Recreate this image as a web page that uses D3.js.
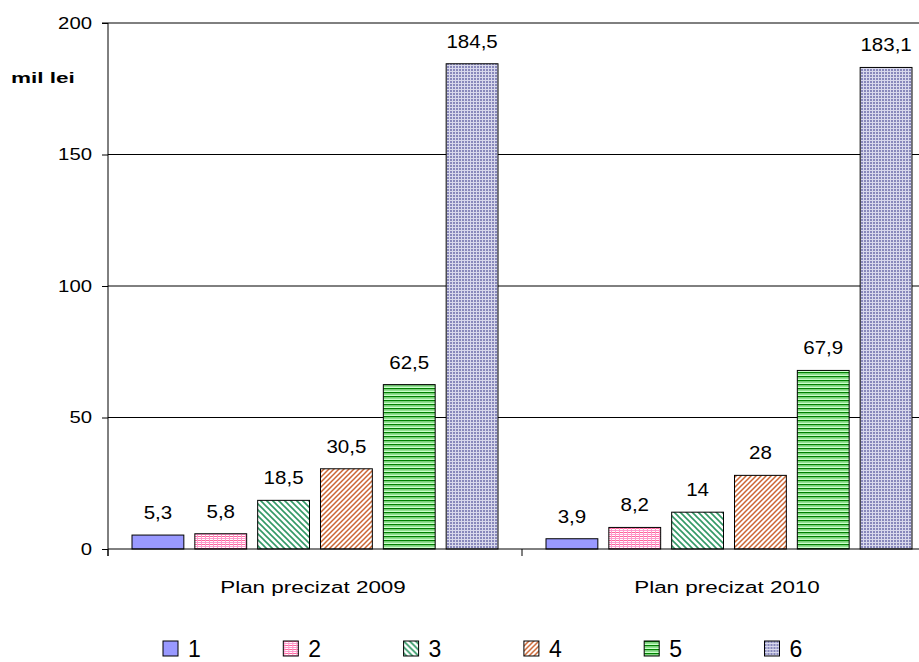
<!DOCTYPE html>
<html><head><meta charset="utf-8">
<script src="https://cdn.jsdelivr.net/npm/d3@7"></script>
<style>body{margin:0;background:#fff;}svg{display:block;font-family:Arial,"Liberation Sans",sans-serif;}</style>
</head><body><svg id="c" width="919" height="662"></svg>
<script>
const categories = ["Plan precizat 2009", "Plan precizat 2010"];
const seriesNames = ["1", "2", "3", "4", "5", "6"];
const values2009 = [5.3, 5.8, 18.5, 30.5, 62.5, 184.5];
const values2010 = [3.9, 8.2, 14, 28, 67.9, 183.1];
const yTicks = [0, 50, 100, 150, 200];
const yLabel = "mil lei";

const svg = d3.select("#c");
const margin = {left:108, top:23, right:936, bottom:549};
const x0 = d3.scaleBand().domain(categories).range([margin.left, margin.right]).paddingInner(0).paddingOuter(0);
const x1 = d3.scaleBand().domain(seriesNames).range([24, x0.bandwidth()-24]).paddingInner(0.175).paddingOuter(0);
const y = d3.scaleLinear().domain([0,200]).range([margin.bottom, margin.top]);

function stretch(sel, factor){
  sel.each(function(){
    const w = this.getComputedTextLength();
    d3.select(this).attr("textLength", w*factor).attr("lengthAdjust","spacingAndGlyphs");
  });
}

const defs = svg.append("defs");
function pat(id, w, h, build, bg){
  const p = defs.append("pattern").attr("id", id).attr("patternUnits","userSpaceOnUse").attr("width",w).attr("height",h);
  p.append("rect").attr("width",w).attr("height",h).attr("fill",bg||"#fff");
  build(p);
}
pat("p1",4,4,p=>{},"#9999FF");
pat("p2",4,4,p=>{
  p.append("rect").attr("x",0).attr("y",0).attr("width",4).attr("height",1).attr("fill","#FF6699");
  p.append("rect").attr("x",0).attr("y",2).attr("width",4).attr("height",1).attr("fill","#FF99CC");
  p.append("rect").attr("x",1).attr("y",0).attr("width",1).attr("height",4).attr("fill","#FF99CC");
},"#fff");
pat("p3",6,6,p=>{
  p.append("path").attr("d","M-1,-1 L7,7 M-1,5 L1,7 M5,-1 L7,1").attr("stroke","#339966").attr("stroke-width",1.6);
},"#fff");
pat("p4",5,5,p=>{
  p.append("path").attr("d","M-1,6 L6,-1 M-1,1 L1,-1 M4,6 L6,4").attr("stroke","#CC6633").attr("stroke-width",1.5);
},"#fff");
pat("p5",4,4,p=>{
  p.append("rect").attr("x",0).attr("y",0).attr("width",4).attr("height",1.2).attr("fill","#008000");
  p.append("rect").attr("x",0).attr("y",1.2).attr("width",4).attr("height",1.6).attr("fill","#66CC66");
  p.append("rect").attr("x",0).attr("y",2.8).attr("width",4).attr("height",1.2).attr("fill","#CCFFCC");
},"#fff");
pat("p6",3,3,p=>{
  p.append("rect").attr("x",0).attr("y",0).attr("width",2).attr("height",2).attr("fill","#8888BB");
},"#D8D8EC");
const fills = ["url(#p1)","url(#p2)","url(#p3)","url(#p4)","url(#p5)","url(#p6)"];

// gridlines
svg.append("g").selectAll("line").data(yTicks.filter(d=>d>0)).join("line")
  .attr("x1",margin.left).attr("x2",margin.right).attr("y1",d=>y(d)).attr("y2",d=>y(d))
  .attr("stroke","#000").attr("stroke-width",1);

// bars
const data = [values2009, values2010];
const groups = svg.append("g").selectAll("g").data(categories).join("g")
  .attr("transform",c=>`translate(${x0(c)},0)`);
groups.each(function(c,i){
  const g = d3.select(this);
  g.selectAll("rect").data(data[i]).join("rect")
    .attr("x",(d,j)=>x1(seriesNames[j])).attr("width",x1.bandwidth())
    .attr("y",d=>y(d)).attr("height",d=>y(0)-y(d))
    .attr("fill",(d,j)=>fills[j]).attr("stroke","#000").attr("stroke-width",1);
  g.selectAll("text").data(data[i]).join("text")
    .attr("x",(d,j)=>x1(seriesNames[j])+x1.bandwidth()/2).attr("y",d=>y(d)-16)
    .attr("text-anchor","middle").attr("font-size",19).attr("fill","#000")
    .text(d=>String(d).replace(".",","))
    .call(stretch, 1.08);
});

// y axis
const yAxis = d3.axisLeft(y).tickValues(yTicks).tickSize(6).tickPadding(10);
const ya = svg.append("g").attr("transform",`translate(${margin.left},0)`).call(yAxis);
ya.select(".domain").attr("d",`M-6,${y(200)}H0V${y(0)+7}`);
ya.selectAll("text").attr("font-size",16).attr("font-family","Arial,'Liberation Sans',sans-serif").attr("fill","#000")
  .call(stretch, 1.27);
ya.selectAll("line").attr("stroke","#000");

// x axis
svg.append("line").attr("x1",margin.left).attr("x2",margin.right).attr("y1",y(0)).attr("y2",y(0)).attr("stroke","#000");
svg.append("g").selectAll("line").data([margin.left, margin.left + x0.bandwidth(), margin.right]).join("line")
  .attr("x1",d=>d).attr("x2",d=>d).attr("y1",y(0)).attr("y2",y(0)+7).attr("stroke","#000");
svg.append("g").selectAll("text").data(categories).join("text")
  .attr("x",c=>x0(c)+x0.bandwidth()/2-2).attr("y",593)
  .attr("text-anchor","middle").attr("font-size",16).text(d=>d)
  .call(stretch, 1.4);

// y label
svg.append("text").attr("x",11).attr("y",83).attr("font-size",15).attr("font-weight","bold").text(yLabel)
  .call(stretch, 1.5);

// legend
const lg = svg.append("g").selectAll("g").data(seriesNames).join("g")
  .attr("transform",(d,i)=>`translate(${163+i*120.3},641)`);
lg.append("rect").attr("x",0).attr("y",0).attr("width",15).attr("height",15)
  .attr("fill",(d,i)=>fills[i]).attr("stroke","#000").attr("stroke-width",1);
lg.append("text").attr("x",25).attr("y",16).attr("font-size",23).text(d=>d);
</script></body></html>
